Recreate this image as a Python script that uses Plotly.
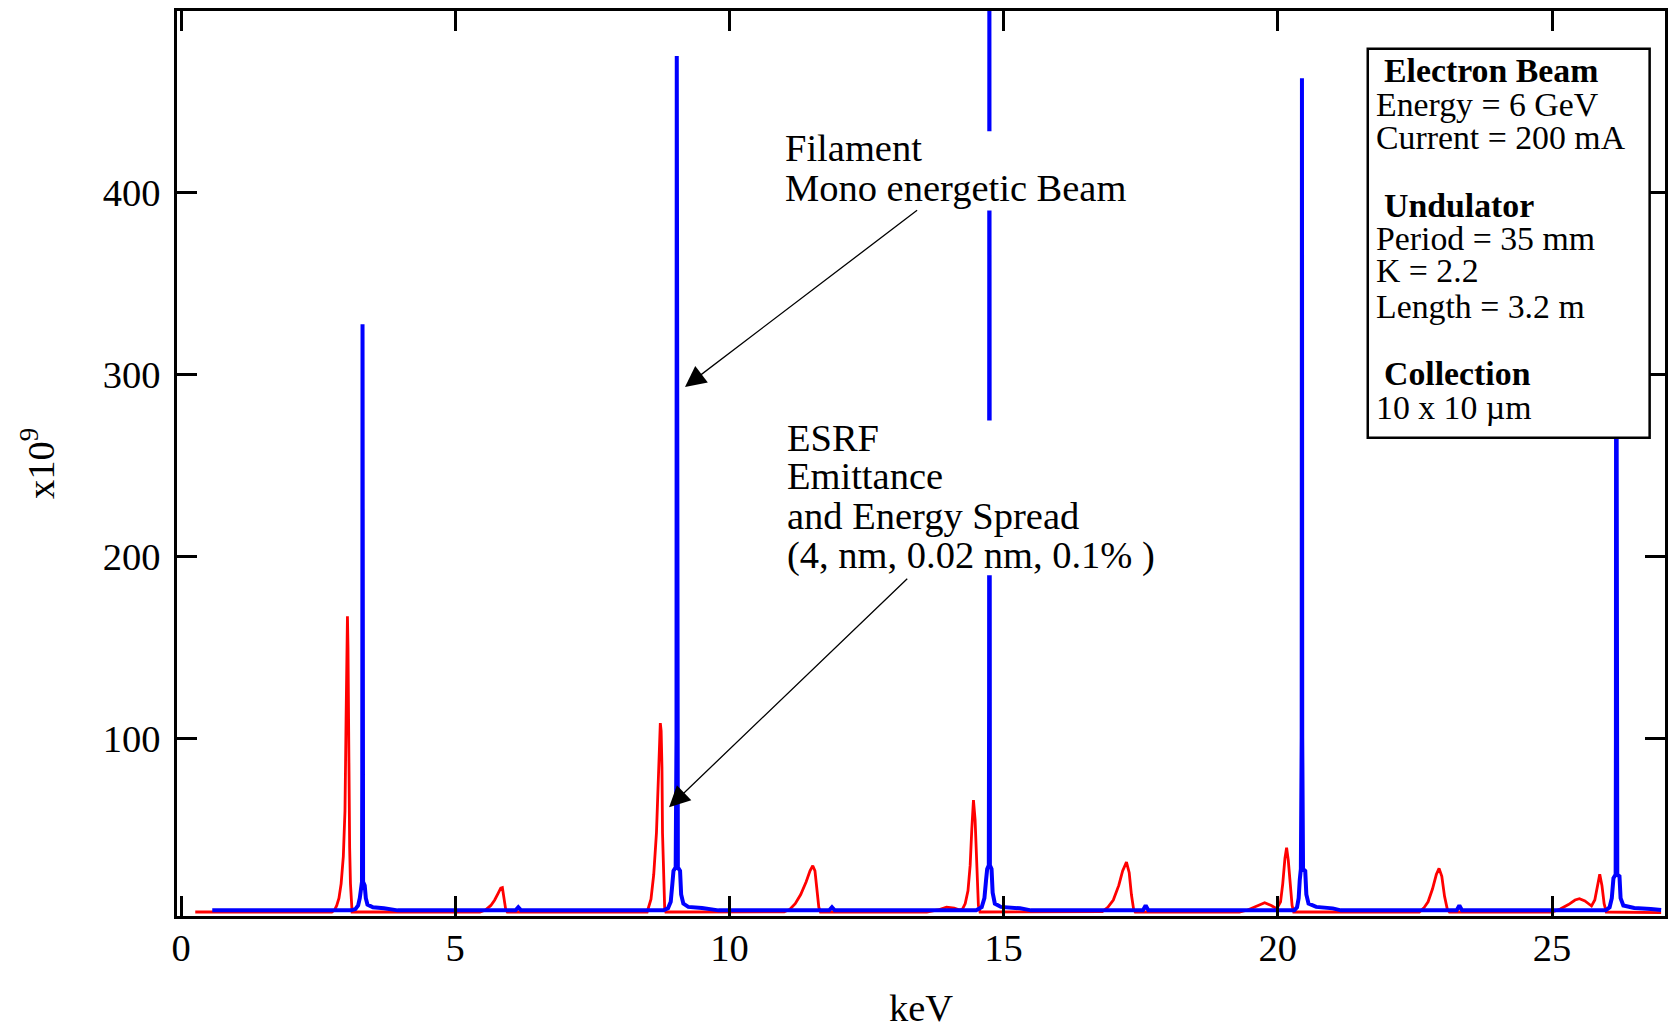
import plotly.graph_objects as go

# ---------------- data ----------------
# ESRF emittance + energy spread (red)
red_x = [0.26, 2.75, 2.80, 2.84, 2.88, 2.92, 2.96, 2.99, 3.01, 3.025, 3.035, 3.045, 3.06, 3.075, 3.09, 3.10, 3.12,
         5.45, 5.55, 5.65, 5.72, 5.78, 5.83, 5.86, 5.89, 5.92, 5.95,
         8.50, 8.57, 8.62, 8.67, 8.71, 8.74, 8.755, 8.77, 8.78, 8.80, 8.82, 8.84,
         11.00, 11.10, 11.20, 11.30, 11.40, 11.47, 11.52, 11.56, 11.60, 11.63, 11.66,
         13.60, 13.80, 13.96, 14.10, 14.20, 14.25, 14.30, 14.35, 14.39, 14.42, 14.45, 14.48, 14.51, 14.54, 14.57,
         16.80, 16.90, 17.00, 17.10, 17.17, 17.24, 17.29, 17.33, 17.37, 17.40,
         19.30, 19.45, 19.60, 19.76, 19.88, 19.98, 20.05, 20.09, 20.13, 20.16, 20.19, 20.23, 20.26, 20.29,
         22.58, 22.66, 22.74, 22.82, 22.89, 22.94, 22.99, 23.04, 23.09, 23.13,
         25.00, 25.15, 25.30, 25.42, 25.50, 25.60, 25.72, 25.78, 25.83, 25.87, 25.91, 25.95, 25.99, 26.99]
red_y = [4.4, 4.4, 5.5, 8.0, 12.0, 20.0, 35.0, 60.0, 110.0, 155.0, 167.0, 150.0, 75.0, 40.0, 20.0, 13.0, 4.4,
         4.4, 5.5, 8.0, 11.0, 14.5, 17.5, 17.8, 12.0, 6.0, 4.4,
         4.4, 11.4, 25.0, 48.0, 84.0, 108.2, 104.0, 84.0, 48.0, 20.0, 6.0, 4.4,
         4.5, 5.8, 9.0, 14.0, 21.0, 27.0, 29.8, 27.0, 15.0, 7.0, 4.4,
         4.4, 5.5, 7.0, 6.5, 5.5, 6.0, 9.0, 16.0, 30.0, 50.0, 65.9, 55.0, 25.0, 8.0, 4.4,
         4.6, 7.0, 11.0, 19.0, 27.0, 31.8, 26.0, 14.0, 6.0, 4.4,
         4.4, 5.5, 7.5, 9.5, 8.0, 6.2, 10.0, 20.0, 34.0, 39.7, 33.0, 18.0, 8.0, 4.4,
         4.4, 6.5, 10.0, 17.0, 25.0, 28.4, 24.0, 13.0, 6.0, 4.4,
         4.4, 6.0, 8.5, 11.0, 11.7, 10.5, 7.7, 11.0, 20.0, 25.1, 19.0, 9.0, 4.4, 4.0]

# Filament, mono-energetic beam (blue)
blue_x = [0.57, 3.10, 3.18, 3.23, 3.26, 3.28, 3.30, 3.305, 3.31, 3.315, 3.32, 3.35, 3.37, 3.40, 3.50, 3.70, 3.85, 3.95,
          6.10, 6.15, 6.20,
          8.80, 8.88, 8.93, 8.96, 8.98, 9.02, 9.035, 9.04, 9.045, 9.06, 9.10, 9.12, 9.16, 9.25, 9.50, 9.70, 9.80,
          11.82, 11.87, 11.92,
          14.50, 14.60, 14.65, 14.68, 14.70, 14.73, 14.735, 14.74, 14.745, 14.75, 14.78, 14.80, 14.84, 14.95, 15.30, 15.50,
          17.54, 17.59, 17.64,
          20.30, 20.35, 20.38, 20.40, 20.42, 20.435, 20.44, 20.445, 20.46, 20.50, 20.52, 20.56, 20.70, 21.00, 21.15,
          23.26, 23.31, 23.36,
          25.98, 26.05, 26.09, 26.12, 26.16, 26.165, 26.17, 26.175, 26.19, 26.23, 26.25, 26.30, 26.50, 26.80, 26.99]
blue_y = [5.3, 5.3, 6.0, 8.0, 12.0, 19.0, 21.0, 80.0, 327.5, 80.0, 21.0, 19.0, 12.0, 8.5, 7.0, 6.5, 5.8, 5.3,
          5.3, 7.0, 5.3,
          5.3, 6.5, 10.0, 20.0, 27.0, 29.0, 100.0, 474.9, 100.0, 29.0, 27.0, 14.0, 9.0, 7.2, 6.6, 6.0, 5.3,
          5.3, 7.0, 5.3,
          5.3, 7.0, 12.0, 22.0, 28.0, 30.0, 120.0, 560.0, 120.0, 30.0, 28.0, 15.0, 9.0, 7.2, 6.4, 5.3,
          5.3, 8.0, 5.3,
          5.3, 7.0, 12.0, 22.0, 28.0, 100.0, 462.6, 100.0, 28.0, 27.0, 14.0, 9.0, 7.2, 6.4, 5.3,
          5.3, 8.0, 5.3,
          5.3, 7.0, 12.0, 23.0, 25.0, 100.0, 450.0, 100.0, 25.0, 24.0, 12.0, 8.0, 6.6, 6.0, 5.5]

x_ticks = [0, 5, 10, 15, 20, 25]
y_ticks = [100, 200, 300, 400]

info_lines = ["<b>Electron Beam</b>", "Energy = 6 GeV", "Current = 200 mA",
              "<b>Undulator</b>", "Period = 35 mm", "K = 2.2", "Length = 3.2 m",
              "<b>Collection</b>", "10 x 10 µm"]
filament_lines = ["Filament", "Mono energetic Beam"]
esrf_lines = ["ESRF", "Emittance", "and Energy Spread", "(4, nm, 0.02 nm, 0.1% )"]

# ---------------- figure ----------------
SERIF = "Liberation Serif, Times New Roman, serif"
BIG = 38.5
SMALL = 33.8

fig = go.Figure()
fig.add_trace(go.Scatter(x=red_x, y=red_y, mode="lines",
                         line=dict(color="#ff0000", width=2.8), showlegend=False))
fig.add_trace(go.Scatter(x=blue_x, y=blue_y, mode="lines",
                         line=dict(color="#0000ff", width=4), showlegend=False))

shapes = [
    # white boxes behind the text labels
    dict(type="rect", xref="x", yref="y", x0=10.97, x1=17.27, y0=390.0, y1=433.5,
         fillcolor="white", line=dict(width=0), layer="above"),
    dict(type="rect", xref="x", yref="y", x0=11.0, x1=17.8, y0=189.5, y1=274.5,
         fillcolor="white", line=dict(width=0), layer="above"),
    # info box
    dict(type="rect", xref="x", yref="y", x0=21.64, x1=26.78, y0=265.0, y1=478.8,
         fillcolor="white", line=dict(color="black", width=2.5), layer="above"),
]

annotations = []
# info box texts
info_x = [21.92, 21.77, 21.77, 21.92, 21.77, 21.77, 21.77, 21.92, 21.77]
info_y = [467.0, 448.3, 430.3, 392.5, 374.3, 356.8, 337.4, 300.1, 281.5]
for t, xx, yy in zip(info_lines, info_x, info_y):
    annotations.append(dict(x=xx, y=yy, xref="x", yref="y", text=t, showarrow=False,
                            xanchor="left", yanchor="middle", borderpad=0,
                            font=dict(family=SERIF, size=SMALL, color="black")))
# label texts
for t, yy in zip(filament_lines, [424.1, 402.4]):
    annotations.append(dict(x=10.99, y=yy, xref="x", yref="y", text=t, showarrow=False,
                            xanchor="left", yanchor="middle", borderpad=0,
                            font=dict(family=SERIF, size=BIG, color="black")))
for t, yy in zip(esrf_lines, [264.9, 243.9, 222.2, 200.6]):
    annotations.append(dict(x=11.04, y=yy, xref="x", yref="y", text=t, showarrow=False,
                            xanchor="left", yanchor="middle", borderpad=0,
                            font=dict(family=SERIF, size=BIG, color="black")))
# arrows
annotations.append(dict(x=9.19, y=293.0, ax=13.45, ay=390.7, xref="x", yref="y",
                        axref="x", ayref="y", text="", showarrow=True,
                        arrowhead=2, arrowsize=3.2, arrowwidth=1.3, arrowcolor="black"))
annotations.append(dict(x=8.90, y=62.0, ax=13.27, ay=188.3, xref="x", yref="y",
                        axref="x", ayref="y", text="", showarrow=True,
                        arrowhead=2, arrowsize=3.2, arrowwidth=1.3, arrowcolor="black"))

axis_common = dict(showline=True, linecolor="black", linewidth=2.5, mirror="ticks",
                   ticks="inside", ticklen=20, tickwidth=2.5, tickcolor="black",
                   showgrid=False, zeroline=False, automargin=False,
                   tickfont=dict(family=SERIF, size=BIG, color="black"))

fig.update_layout(
    width=1671, height=1029,
    margin=dict(l=177, r=6, t=11, b=113),
    paper_bgcolor="white", plot_bgcolor="white",
    shapes=shapes, annotations=annotations,
    xaxis=dict(range=[-0.073, 27.06], tickvals=x_ticks, ticklabelstandoff=-4,
               title=dict(text="keV", font=dict(family=SERIF, size=BIG, color="black"), standoff=32),
               **axis_common),
    yaxis=dict(range=[2.2, 499.6], tickvals=y_ticks, ticklabelstandoff=6,
               title=dict(text="x10<sup>9</sup>", font=dict(family=SERIF, size=BIG, color="black"), standoff=37),
               **axis_common),
)

fig.write_html("out.html", config={"displayModeBar": False},
               post_script="document.body.style.margin='0';document.body.style.overflow='hidden';")
